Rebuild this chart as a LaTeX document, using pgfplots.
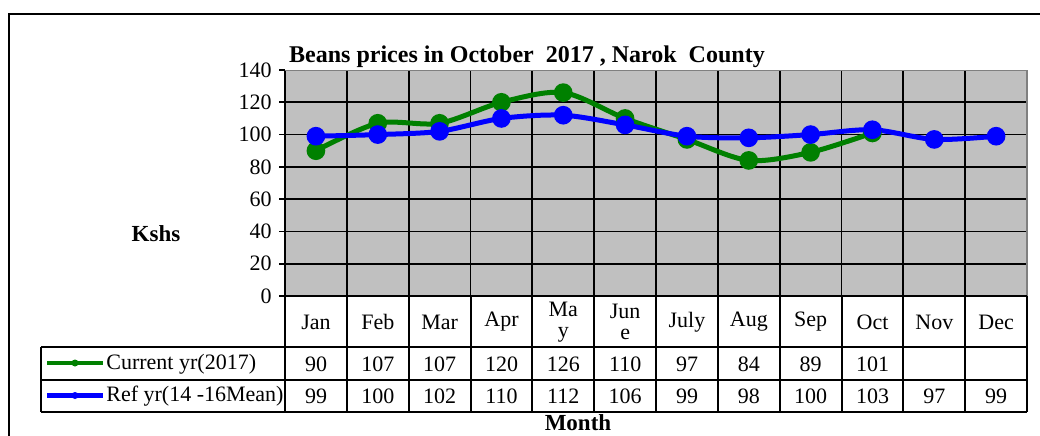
\documentclass[border=0pt]{standalone}
\usepackage{pgfplots}
\pgfplotsset{compat=1.18}
\usepackage{fontspec}
\setmainfont{Liberation Serif}
\definecolor{bggray}{HTML}{C0C0C0}
\definecolor{xlgreen}{HTML}{008000}
\definecolor{xlblue}{HTML}{0000FF}
\begin{document}
\fontsize{11}{13}\selectfont
\begin{tikzpicture}
\useasboundingbox (0,0) rectangle (520pt,-217.5pt);
% outer frame
\begin{scope}[x=0.5pt,y=-0.5pt]
\draw[line width=1.1pt] (9,460) -- (9,14) -- (1060,14);
\end{scope}
\begin{axis}[
  at={(142.5pt,-148pt)}, anchor=south west,
  scale only axis, width=371pt, height=113pt,
  xmin=-0.5, xmax=11.5, ymin=0, ymax=140,
  xtick={-0.5,0.5,...,10.5}, xticklabels={},
  ytick={0,20,...,120}, extra y ticks={140},
  extra tick style={grid=none},
  ytick pos=left,
  xmajorgrids, ymajorgrids,
  grid style={black, line width=0.9pt},
  major x tick style={draw=none},
  tick align=outside, major tick length=3pt,
  y tick style={black, line width=0.9pt},
  axis line style={draw=none},
  axis background/.style={fill=bggray},
  /pgf/number format/assume math mode=true,
  yticklabel style={font=\fontsize{11}{13}\selectfont, inner sep=3.5pt},
  clip=false,
]
\addplot[xlgreen, line width=2.5pt, smooth, tension=0.5, mark=*, mark size=3.4pt, mark options={solid, fill=xlgreen}]
  coordinates {(0,90)(1,107)(2,107)(3,120)(4,126)(5,110)(6,97)(7,84)(8,89)(9,101)};
\addplot[xlblue, line width=2.5pt, smooth, tension=0.5, mark=*, mark size=3.4pt, mark options={solid, fill=xlblue}]
  coordinates {(0,99)(1,100)(2,102)(3,110)(4,112)(5,106)(6,99)(7,98)(8,100)(9,103)(10,97)(11,99)};
\end{axis}
\begin{scope}[x=0.5pt,y=-0.5pt]
% plot border
\draw[gray, line width=0.8pt] (285,70.5) -- (1027,70.5) -- (1027,296);
\draw[black, line width=1pt] (285,70.5) -- (285,296);
% table
\draw[line width=1pt] (285,296) -- (1027,296);
\foreach \k in {0,...,12} {
  \draw[line width=1pt] ({285+61.833*\k},296) -- ({285+61.833*\k},412);
}
\draw[line width=1pt] (41,347) -- (1027,347);
\draw[line width=1pt] (41,379.5) -- (1027,379.5);
\draw[line width=1pt] (41,412) -- (1027,412);
\draw[line width=1pt] (41,347) -- (41,412);
% header labels
\foreach \m [count=\i from 0] in {Jan,Feb,Mar,Apr,{Ma\\y},{Jun\\e},July,Aug,Sep,Oct,Nov,Dec} {
  \node[align=center, font=\fontsize{11}{10.5}\selectfont, inner sep=0pt] at ({316+61.833*\i},322) {\m};
}
\foreach \v [count=\i from 0] in {90,107,107,120,126,110,97,84,89,101} {
  \node[inner sep=0pt] at ({316+61.833*\i},364) {\v};
}
\foreach \v [count=\i from 0] in {99,100,102,110,112,106,99,98,100,103,97,99} {
  \node[inner sep=0pt] at ({316+61.833*\i},396) {\v};
}
% legend keys
\draw[xlgreen, line width=2.2pt] (47,363) -- (103,363);
\fill[xlgreen] (75,363) circle (3.5);
\draw[xlblue, line width=2.2pt] (47,395.5) -- (103,395.5);
\fill[xlblue] (75,395.5) circle (3.5);
\node[anchor=west, inner sep=0pt] at (106,364) {Current yr(2017)};
\node[anchor=west, inner sep=0pt] at (106,396) {Ref yr(14 -16Mean)};
% titles
\node[font=\bfseries\fontsize{12}{14}\selectfont, inner sep=0pt] at (527,57) {Beans prices in October\ \ 2017 , Narok\ \ County};
\node[font=\bfseries\fontsize{11.5}{13}\selectfont, inner sep=0pt] at (156,234) {Kshs};
\node[font=\bfseries\fontsize{11.5}{13}\selectfont, inner sep=0pt, anchor=north] at (578,414) {Month};
\end{scope}
\end{tikzpicture}
\end{document}
